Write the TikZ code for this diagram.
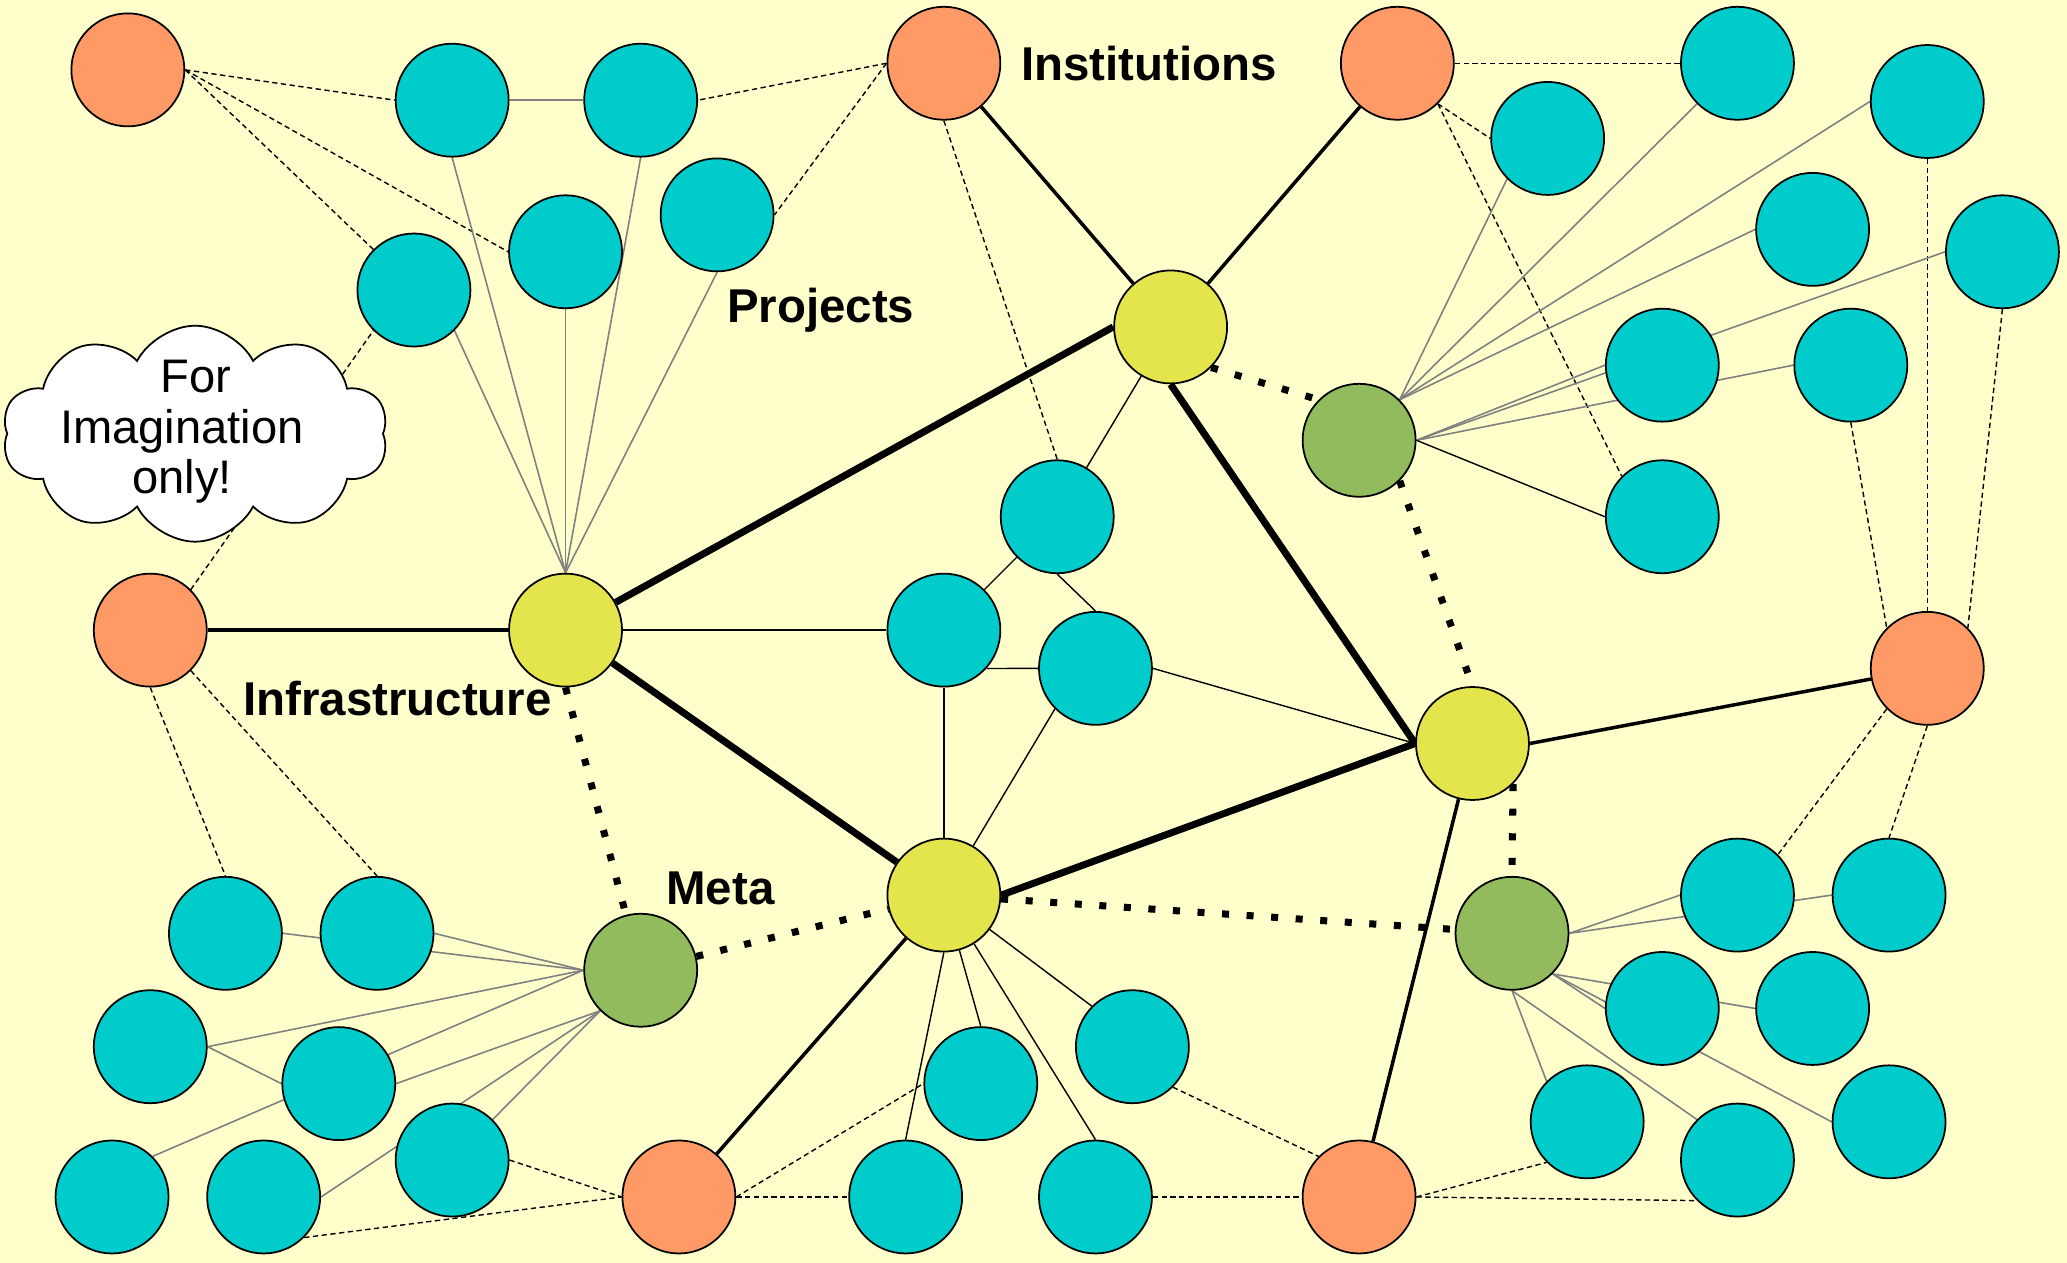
\documentclass[tikz,border=0pt]{standalone}
\usepackage{fontspec}
\setmainfont{Liberation Sans}
\usetikzlibrary{shapes.symbols}
\definecolor{paper}{HTML}{FFFFCC}
\definecolor{instC}{HTML}{FF9966}
\definecolor{infraC}{HTML}{E4E44C}
\definecolor{metaC}{HTML}{92BB5E}
\definecolor{projC}{HTML}{00CCCC}
\pgfdeclarelayer{paperlayer}
\pgfdeclarelayer{linklayer}
\pgfsetlayers{paperlayer,linklayer,main}

\begin{document}
\begin{tikzpicture}[x=0.01318cm, y=-0.01318cm,
    blob/.style={circle, draw=black, line width=0.5pt, minimum size=1.13cm, inner sep=0pt},
    inst/.style={blob, fill=instC},
    infra/.style={blob, fill=infraC},
    meta/.style={blob, fill=metaC},
    proj/.style={blob, fill=projC},
    grouplabel/.style={font=\fontsize{13.5}{15.5}\selectfont\bfseries, inner sep=0pt, anchor=base west},
    backbone/.style={line width=2pt},
    tie/.style={line width=1pt},
    metalink/.style={line width=2pt, dash pattern=on 2pt off 5pt},
    owns/.style={line width=0.4pt, dash pattern=on 1.5pt off 1pt},
    thinlink/.style={line width=0.4pt},
    feed/.style={line width=0.45pt, draw=gray}]

        \useasboundingbox (0,0) rectangle (1568,958);
        \begin{pgfonlayer}{paperlayer}
            \fill[paper] (0,0) rectangle (1568,958);
        \end{pgfonlayer}

        %institutions
        \node[inst] (O1) at (97,53) {};
        \node[inst] (O2) at (716,48) {};
        \node[inst] (O3) at (1060,48) {};
        \node[inst] (O4) at (114,478) {};
        \node[inst] (O5) at (1462,507) {};
        \node[inst] (O6) at (515,908) {};
        \node[inst] (O7) at (1031,908) {};

        %infrastructures
        \node[infra] (Y1) at (888,248) {};
        \node[infra] (Y2) at (429,478) {};
        \node[infra] (Y3) at (1117,564) {};
        \node[infra] (Y4) at (716,679) {};

        %meta
        \node[meta] (G1) at (1031,334) {};
        \node[meta] (G2) at (486,736) {};
        \node[meta] (G3) at (1147,708) {};

        %projects, top left
        \node[proj] (T1) at (343,76) {};
        \node[proj] (T2) at (486,76) {};
        \node[proj] (T3) at (429,191) {};
        \node[proj] (T4) at (544,163) {};
        \node[proj] (T5) at (314,220) {};

        %projects, middle
        \node[proj] (T6) at (802,392) {};
        \node[proj] (T7) at (716,478) {};
        \node[proj] (T8) at (831,507) {};

        %projects, top right
        \node[proj] (T9) at (1318,48) {};
        \node[proj] (T10) at (1174,105) {};
        \node[proj] (T11) at (1462,77) {};
        \node[proj] (T12) at (1375,174) {};
        \node[proj] (T13) at (1519,191) {};
        \node[proj] (T14) at (1261,277) {};
        \node[proj] (T15) at (1404,277) {};
        \node[proj] (T16) at (1261,392) {};

        %projects, bottom left
        \node[proj] (T17) at (171,708) {};
        \node[proj] (T18) at (286,708) {};
        \node[proj] (T19) at (114,794) {};
        \node[proj] (T20) at (257,822) {};
        \node[proj] (T21) at (85,908) {};
        \node[proj] (T22) at (200,908) {};
        \node[proj] (T23) at (343,880) {};

        %projects, bottom middle
        \node[proj] (T24) at (744,822) {};
        \node[proj] (T25) at (859,794) {};
        \node[proj] (T26) at (687,908) {};
        \node[proj] (T27) at (831,908) {};

        %projects, bottom right
        \node[proj] (T28) at (1318,679) {};
        \node[proj] (T29) at (1433,679) {};
        \node[proj] (T30) at (1261,765) {};
        \node[proj] (T31) at (1375,765) {};
        \node[proj] (T32) at (1433,851) {};
        \node[proj] (T33) at (1204,851) {};
        \node[proj] (T34) at (1318,880) {};

        %cloud
        \node[cloud, draw=black, line width=0.5pt, fill=white,
            cloud puffs=10, cloud puff arc=125, cloud ignores aspect,
            minimum width=3.86cm, minimum height=2.16cm, inner sep=0pt] (cloud) at (148,329) {};
        \node[align=center, inner sep=0pt,
            font=\fontsize{13.4}{14.5}\selectfont] (note) at (138,327.5) {\hspace*{0.59em}For\\Imagination\\only!};

        %labels
        \node[grouplabel] (Linst) at (774,61) {Institutions};
        \node[grouplabel] (Lproj) at (551,245) {Projects};
        \node[grouplabel] (Linfra) at (184,543) {Infrastructure};
        \node[grouplabel] (Lmeta) at (505,686) {Meta};

        \begin{pgfonlayer}{linklayer}
        %between infrastructures
        \path[backbone]
            (Y2) edge (Y1.west)
            (Y2) edge (Y4)
            (Y1.south) edge (Y3.west)
            (Y4.east) edge (Y3.west);

        %institutions and infrastructures
        \path[tie]
            (O2) edge (Y1)
            (O3) edge (Y1)
            (O4) edge (Y2)
            (O5) edge (Y3.east)
            (O6) edge (Y4)
            (O7) edge (Y3);

        %meta and infrastructures
        \path[metalink]
            (Y1.south east) edge (G1.north west)
            (G1.south east) edge (Y3.north)
            (Y3.south east) edge (G3.north)
            (Y2.south) edge (G2)
            (G2) edge (Y4)
            (Y4) edge (G3);

        %institutions and projects
        \path[owns]
            (O1.east) edge (T1.west)
            (O1.east) edge (T3.west)
            (O1.east) edge (T5.north west)
            (O2.west) edge (T2.east)
            (O2.west) edge (T4.east)
            (O2.south) edge (T6.north)
            (O3.east) edge (T9.west)
            (O3.south east) edge (T10.west)
            (O3.south east) edge (T16.north west)
            (O4.north east) edge (T5.south west)
            (O4.south) edge (T17.north)
            (O4.south east) edge (T18.north)
            (T11.south) edge (O5.north)
            (T13.south) edge (O5.north east)
            (T15.south) edge (O5.north west)
            (O5.south west) edge (T28.north east)
            (O5.south) edge (T29.north)
            (T23.east) edge (O6.west)
            (T22.south east) edge (O6.west)
            (O6.east) edge (T26.west)
            (O6.east) edge (T24.west)
            (T27.east) edge (O7.west)
            (T25.south east) edge (O7.north west)
            (O7.east) edge (T33.south west)
            (O7.east) edge (T34.south west);

        %projects and hubs
        \path[feed]
            (T1.east) edge (T2.west)
            (T1.south) edge (Y2.north)
            (T2.south) edge (Y2.north)
            (T3.south) edge (Y2.north)
            (T4.south) edge (Y2.north)
            (T5.south east) edge (Y2.north)
            (T9.south west) edge (G1.north east)
            (T10.south west) edge (G1.north east)
            (T11.west) edge (G1.north east)
            (T12.west) edge (G1.north east)
            (T13.west) edge (G1.east)
            (T14.west) edge (G1.east)
            (T15.west) edge (G1.east)
            (T17.east) edge (G2.west)
            (T18.east) edge (G2.west)
            (T19.east) edge (G2.west)
            (T19.east) edge (T20.west)
            (T21.north east) edge (G2.west)
            (T20.east) edge (G2.south west)
            (T22.east) edge (G2.south west)
            (T23.north east) edge (G2.south west)
            (T28.west) edge (G3.east)
            (T29.west) edge (G3.east)
            (T30.west) edge (G3.south east)
            (T31.west) edge (G3.south east)
            (T32.west) edge (G3.south east)
            (T33.north west) edge (G3.south)
            (T34.north west) edge (G3.south);

        %thin links in the middle
        \path[thinlink]
            (Y2.east) edge (T7.west)
            (Y1) edge (T6)
            (T6) edge (T7)
            (T6.south) edge (T8.north)
            (T7.-42) edge (T8.west)
            (T7.south) edge (Y4.north)
            (T8.south west) edge (Y4)
            (T8.east) edge (Y3.west)
            (G1.east) edge (T16.west)
            (Y4) edge (T24.north)
            (Y4) edge (T25.north west)
            (Y4.south) edge (T26.north)
            (Y4) edge (T27.north);
        \end{pgfonlayer}

\end{tikzpicture}
\end{document}
